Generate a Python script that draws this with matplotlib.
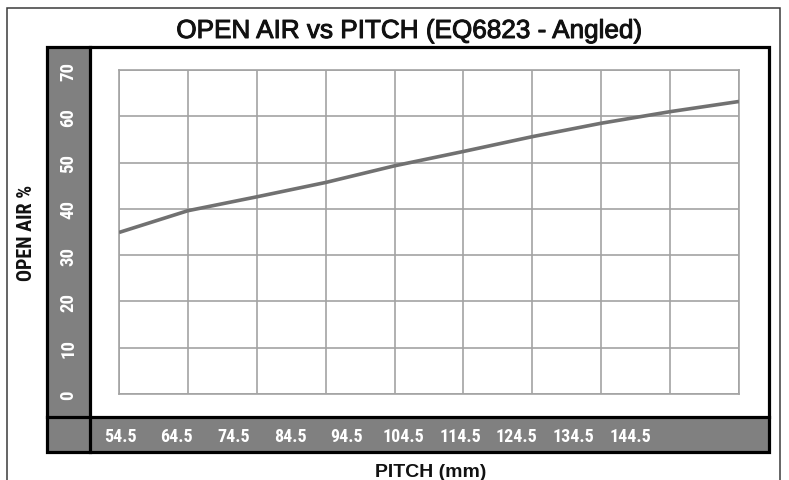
import matplotlib
matplotlib.use("Agg")
import matplotlib.pyplot as plt
from matplotlib import font_manager
from matplotlib.patches import Rectangle
from matplotlib.lines import Line2D
import matplotlib.patheffects as pe

names = {f.name for f in font_manager.fontManager.ttflist}
cands = ["Roboto Condensed", "Archivo Narrow", "PT Sans Narrow", "DejaVu Sans"]
NARROW = next(c for c in cands if c in names)
SANS = "Liberation Sans"

pitch_labels = ["54.5", "64.5", "74.5", "84.5", "94.5", "104.5", "114.5", "124.5", "134.5", "144.5"]
open_air = [34.9, 39.6, 42.6, 45.7, 49.3, 52.4, 55.6, 58.5, 61.0, 63.2]
y_ticks = [0, 10, 20, 30, 40, 50, 60, 70]

W, H = 789, 481
fig = plt.figure(figsize=(W/100, H/100), dpi=100)
fig.patch.set_facecolor("white")

def fx(x):
    return x / W

def fy(y):
    return 1 - y / H

def box(x0, y0, x1, y1):
    return [fx(x0), fy(y1), fx(x1) - fx(x0), fy(y0) - fy(y1)]

GRAY_BAND = "#808080"
GRID = "#a3a3a3"
LINE = "#717171"

# outer border
fig.add_artist(Rectangle((fx(7), fy(495)), fx(780) - fx(7), fy(9) - fy(495),
                         transform=fig.transFigure, fill=False, edgecolor="#3a3a3a",
                         linewidth=1.1, clip_on=False, zorder=-10))

# gray bands (behind everything)
fig.add_artist(Rectangle((fx(47), fy(453)), fx(90) - fx(47), fy(48) - fy(453),
                         transform=fig.transFigure, facecolor=GRAY_BAND, edgecolor="none", zorder=-10))
fig.add_artist(Rectangle((fx(47), fy(453)), fx(769) - fx(47), fy(418) - fy(453),
                         transform=fig.transFigure, facecolor=GRAY_BAND, edgecolor="none", zorder=-10))

# main plot
ax = fig.add_axes(box(119, 71, 739, 395))
ax.patch.set_alpha(0)
x = list(range(len(open_air)))
ax.plot(x, open_air, color=LINE, linewidth=2.6, solid_capstyle="butt",
        solid_joinstyle="round", zorder=3)
ax.set_xlim(0, len(open_air) - 1)
ax.set_ylim(y_ticks[0], y_ticks[-1])
ax.set_xticks(x)
ax.set_xticklabels([])
ax.set_yticks(y_ticks)
ax.set_yticklabels([str(v) for v in y_ticks], rotation=90, ha="center", va="center",
                   color="white", fontfamily=NARROW, fontweight="bold", fontsize=13.5)
ax.tick_params(axis="both", length=0)
ax.tick_params(axis="y", pad=36.5)
ax.grid(True, color=GRID, linewidth=1.2)
for s in ax.spines.values():
    s.set_color(GRID)
    s.set_linewidth(1.2)

# bottom band labels (positions independent of grid, as in reference)
axb = fig.add_axes(box(90, 418, 769, 453))
axb.set_xlim(-30 / 56.67, -30 / 56.67 + 679 / 56.67)
axb.set_ylim(0, 1)
axb.axis("off")
for i, lab in enumerate(pitch_labels):
    axb.text(i, 0.47, lab, ha="center", va="center", color="white",
             fontfamily=NARROW, fontweight="bold", fontsize=13)

# black frame lines
lw = 2.3
fig.add_artist(Rectangle((fx(47), fy(453)), fx(769) - fx(47), fy(48) - fy(453),
                         transform=fig.transFigure, fill=False, edgecolor="black",
                         linewidth=lw, zorder=10))
fig.add_artist(Line2D([fx(90), fx(90)], [fy(48), fy(453)], transform=fig.transFigure,
                      color="black", linewidth=lw, zorder=10))
fig.add_artist(Line2D([fx(47), fx(769)], [fy(418), fy(418)], transform=fig.transFigure,
                      color="black", linewidth=lw, zorder=10))

# texts
t = fig.text(fx(409), fy(39), "OPEN AIR vs PITCH (EQ6823 - Angled)", ha="center", va="baseline",
             fontfamily=SANS, fontsize=18.8, color="#111111")
t.set_path_effects([pe.withStroke(linewidth=0.7, foreground="#111111")])
fig.text(fx(431), fy(477), "PITCH (mm)", ha="center", va="baseline",
         fontfamily=SANS, fontweight="bold", fontsize=14, color="#111111")
fig.text(fx(27), fy(233), "OPEN AIR %", ha="center", va="center", rotation=90,
         fontfamily=NARROW, fontweight="bold", fontsize=14.5, color="#111111")

fig.savefig("out.png", dpi=100)
